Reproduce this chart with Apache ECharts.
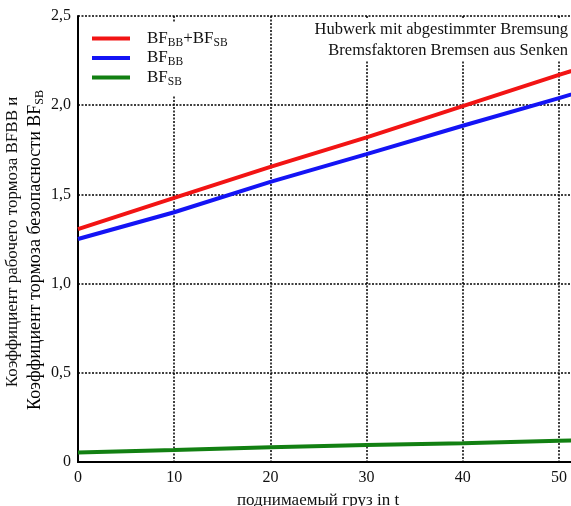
<!DOCTYPE html>
<html><head><meta charset="utf-8">
<script src="https://cdn.jsdelivr.net/npm/echarts@6/dist/echarts.min.js"></script>
<style>html,body{margin:0;padding:0;background:#fff}#c{width:571px;height:506px}</style>
</head><body><div id="c"></div>
<script>
const loads = [0, 10, 20, 30, 40, 50, 55];
const bfSum = [1.305, 1.48, 1.654, 1.82, 1.995, 2.17, 2.255];
const bfBB  = [1.25, 1.40, 1.57, 1.726, 1.885, 2.04, 2.12];
const bfSB  = [0.053, 0.067, 0.082, 0.095, 0.105, 0.119, 0.126];
const xTicks = [0, 10, 20, 30, 40, 50];
const yTicks = [0, 0.5, 1.0, 1.5, 2.0, 2.5];
const seriesNames = ['sum', 'bb', 'sb'];
const titleLines = ['Hubwerk mit abgestimmter Bremsung', 'Bremsfaktoren Bremsen aus Senken'];

const F = '"Liberation Serif", "DejaVu Serif", serif';
const pair = (ys) => loads.map((x, i) => [x, ys[i]]);
const rich = {
  n: {fontFamily: F, fontSize: 17, color: '#111'},
  s: {fontFamily: F, fontSize: 11.5, color: '#111', padding: [8, 0, 0, 0]}
};
const legendText = {
  sum: '{n|BF}{s|BB}{n|+BF}{s|SB}',
  bb: '{n|BF}{s|BB}',
  sb: '{n|BF}{s|SB}'
};
const chart = echarts.init(document.getElementById('c'));
const splitStyle = {show: true, showMaxLine: false, lineStyle: {color: '#000', type: [2, 1.5], width: 1.5}};
const X_MAX = 51.25;
chart.setOption({
  animation: false,
  grid: {left: 78, top: 16, right: 0, bottom: 44},
  legend: {
    orient: 'vertical', left: 80, top: 22, itemWidth: 38, itemHeight: 4, itemGap: 1,
    padding: [8, 14, 8, 12], backgroundColor: '#fff', z: 10,
    icon: 'rect', data: seriesNames,
    formatter: (n) => legendText[n],
    textStyle: {rich: rich, padding: [0, 0, 0, 12]}
  },
  xAxis: [{
    type: 'value', min: 0, max: X_MAX, interval: 10,
    axisLine: {show: true, onZero: false, lineStyle: {color: '#000', width: 2}},
    axisTick: {show: false},
    splitLine: splitStyle,
    axisLabel: {fontFamily: F, fontSize: 16, color: '#111', margin: 8, showMaxLabel: false,
      formatter: (v) => String(v)}
  }, {
    type: 'value', position: 'top', min: 0, max: X_MAX, interval: 10,
    axisLine: {show: true, lineStyle: {color: '#000', width: 2}},
    axisTick: {show: false}, axisLabel: {show: false}, splitLine: {show: false}
  }],
  yAxis: {
    type: 'value', min: 0, max: 2.5, interval: 0.5,
    axisLine: {show: true, lineStyle: {color: '#000', width: 2}},
    axisTick: {show: false},
    splitLine: {show: true, lineStyle: {color: '#000', type: [2, 1.5], width: 1.5}},
    axisLabel: {fontFamily: F, fontSize: 16, color: '#111', margin: 7,
      formatter: (v) => v === 0 ? '0' : v.toFixed(1).replace('.', ',')}
  },
  graphic: [
    {type: 'rect', shape: {x: 305, y: 18, width: 266, height: 42}, style: {fill: '#fff'}, z: 10},
    {type: 'text', right: 3, top: 21, z: 11, style: {text: titleLines[0], font: '16.5px ' + F, fill: '#111', textAlign: 'right'}},
    {type: 'text', right: 3, top: 42, z: 11, style: {text: titleLines[1], font: '16.5px ' + F, fill: '#111', textAlign: 'right'}},
    {type: 'text', x: 13, y: 242, rotation: Math.PI / 2,
      style: {text: 'Коэффициент рабочего тормоза BFBB и', font: '17px ' + F, fill: '#111',
        align: 'center', verticalAlign: 'middle'}},
    {type: 'text', x: 35, y: 250, rotation: Math.PI / 2,
      style: {text: '{n|Коэффициент тормоза безопасности BF}{s|SB}', align: 'center', verticalAlign: 'middle', rich: {
        n: {fontFamily: F, fontSize: 18, color: '#111'},
        s: {fontFamily: F, fontSize: 12, color: '#111', padding: [9, 0, 0, 0]}}}},
    {type: 'text', left: 237, top: 492, style: {text: 'поднимаемый груз in t', font: '17px ' + F, fill: '#111'}}
  ],
  series: [
    {name: 'sum', type: 'line', data: pair(bfSum), showSymbol: false, lineStyle: {color: '#f21414', width: 4}, itemStyle: {color: '#f21414'}, clip: true},
    {name: 'bb', type: 'line', data: pair(bfBB), showSymbol: false, lineStyle: {color: '#1414f5', width: 4}, itemStyle: {color: '#1414f5'}, clip: true},
    {name: 'sb', type: 'line', data: pair(bfSB), showSymbol: false, lineStyle: {color: '#128012', width: 4}, itemStyle: {color: '#128012'}, clip: true}
  ]
});
</script></body></html>
